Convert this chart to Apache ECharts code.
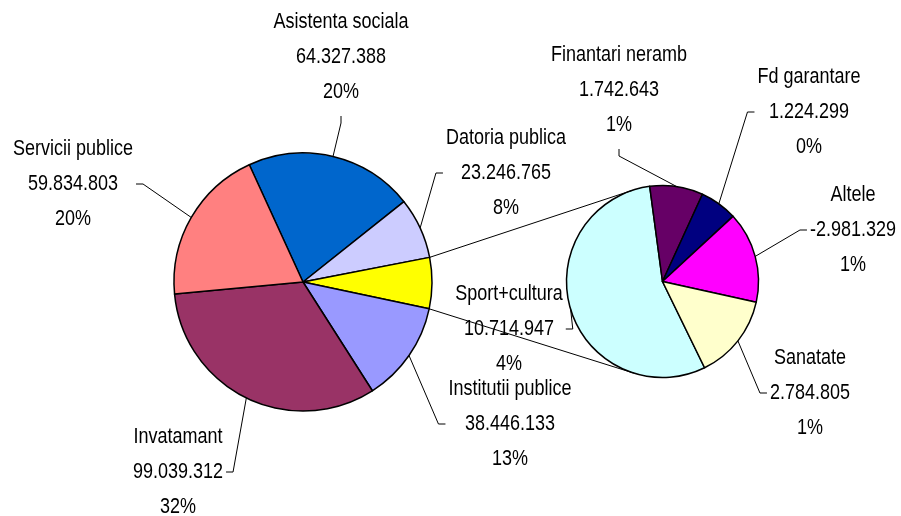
<!DOCTYPE html>
<html><head><meta charset="utf-8">
<script src="https://cdn.jsdelivr.net/npm/echarts@6/dist/echarts.min.js"></script>
<style>html,body{margin:0;padding:0;background:#fff}#c{width:901px;height:516px}</style>
</head><body><div id="c"></div>
<script>
// ---- data ----
const mainCategories = ['Asistenta sociala', 'Datoria publica', 'Institutii publice', 'Invatamant', 'Servicii publice'];
const mainValues = [64327388, 23246765, 38446133, 99039312, 59834803];
const mainPercents = ['20%', '8%', '13%', '32%', '20%'];
const subCategories = ['Sport+cultura', 'Finantari neramb', 'Fd garantare', 'Altele', 'Sanatate'];
const subValues = [10714947, 1742643, 1224299, -2981329, 2784805];
const subPercents = ['4%', '1%', '0%', '1%', '1%'];

// ---- styling / layout ----
const mainColors = ['#0066CC', '#CCCCFF', '#9999FF', '#993366', '#FF8080'];
const otherColor = '#FFFF00';
const subColors = ['#CCFFFF', '#660066', '#000080', '#FF00FF', '#FFFFCC'];
const MAIN = {cx: 303, cy: 282, r: 129, start: 114.6};
const SUB = {cx: 662.5, cy: 281.5, r: 96, start: -64};
const FONT = '18px "Liberation Sans", Arial, sans-serif';
const SY = 1.22, LH = 35;
const labelPos = {
  'Asistenta sociala': {x: 341, y: 57, attach: 'B'},
  'Datoria publica': {x: 506, y: 173, attach: 'L'},
  'Institutii publice': {x: 510, y: 424, attach: 'L'},
  'Invatamant': {x: 178, y: 472, attach: 'R'},
  'Servicii publice': {x: 73, y: 184, attach: 'R'},
  'Sport+cultura': {x: 509, y: 329, attach: 'R'},
  'Finantari neramb': {x: 619, y: 90, attach: 'B'},
  'Fd garantare': {x: 809, y: 112, attach: 'L'},
  'Altele': {x: 853, y: 230, attach: 'L'},
  'Sanatate': {x: 810, y: 393, attach: 'L'}
};

const fmt = v => (v < 0 ? '-' : '') + String(Math.abs(v)).replace(/\B(?=(\d{3})+(?!\d))/g, '.');
const ctx = document.createElement('canvas').getContext('2d');
ctx.font = FONT;
const measure = s => ctx.measureText(s).width;

// main pie: "other" slice (sum of secondary pie) inserted after Datoria publica
const otherTotal = subValues.reduce((a, b) => a + Math.abs(b), 0);
const mainData = [];
mainCategories.forEach((n, i) => {
  mainData.push({name: n, value: mainValues[i], itemStyle: {color: mainColors[i]}});
  if (i === 1) mainData.push({name: 'Alte', value: otherTotal, itemStyle: {color: otherColor}});
});
const subData = subCategories.map((n, i) => ({name: n, value: Math.abs(subValues[i]), itemStyle: {color: subColors[i]}}));

// angles same as ECharts pie layout (clockwise, canvas radians)
function angles(data, startDeg) {
  const tot = data.reduce((a, d) => a + d.value, 0);
  let a = -startDeg * Math.PI / 180;
  return data.map(d => {
    const s = a; a += d.value / tot * Math.PI * 2;
    return {s: s, e: a, m: (s + a) / 2};
  });
}
const mainAng = angles(mainData, MAIN.start);
const subAng = angles(subData, SUB.start);

const elements = [];
function addLabel(name, valText, pct, ang, P) {
  const pos = labelPos[name];
  const lines = [name, valText, pct];
  const ys = [pos.y - LH, pos.y, pos.y + LH];
  lines.forEach((t, i) => elements.push({
    type: 'text', x: pos.x, y: ys[i], scaleY: SY, silent: true, z: 10,
    style: {text: t, x: 0, y: 0, font: FONT, fill: '#000', align: 'center', verticalAlign: 'middle',
      textAlign: 'center', textVerticalAlign: 'middle'}
  }));
  const w = Math.max(...lines.map(measure));
  const ax = P.cx + P.r * Math.cos(ang.m), ay = P.cy + P.r * Math.sin(ang.m);
  let end, elbow;
  if (pos.attach === 'B') { end = [pos.x, pos.y + LH + 24]; elbow = [pos.x, pos.y + LH + 31]; }
  else if (pos.attach === 'L') { end = [pos.x - w / 2 - 3, pos.y]; elbow = [end[0] - 7, pos.y]; }
  else { end = [pos.x + w / 2 + 3, pos.y]; elbow = [end[0] + 7, pos.y]; }
  elements.push({type: 'polyline', silent: true, z: 10, shape: {points: [end, elbow, [ax, ay]]},
    style: {stroke: '#000', lineWidth: 1, fill: null}});
}
let mi = 0;
mainData.forEach((d, i) => {
  if (d.name === 'Alte') return;
  addLabel(d.name, fmt(mainValues[mi]), mainPercents[mi], mainAng[i], MAIN);
  mi++;
});
subData.forEach((d, i) => addLabel(d.name, fmt(subValues[i]), subPercents[i], subAng[i], SUB));

// connector lines: from edges of the "other" slice, tangent to the secondary pie
const oi = mainData.findIndex(d => d.name === 'Alte');
function tangent(px, py, top) {
  const vx = px - SUB.cx, vy = py - SUB.cy, d = Math.hypot(vx, vy);
  const th = Math.atan2(vy, vx), al = Math.acos(SUB.r / d);
  const t1 = [SUB.cx + SUB.r * Math.cos(th + al), SUB.cy + SUB.r * Math.sin(th + al)];
  const t2 = [SUB.cx + SUB.r * Math.cos(th - al), SUB.cy + SUB.r * Math.sin(th - al)];
  return top ? (t1[1] < t2[1] ? t1 : t2) : (t1[1] > t2[1] ? t1 : t2);
}
[[mainAng[oi].s, true], [mainAng[oi].e, false]].forEach(([a, top]) => {
  const p = [MAIN.cx + MAIN.r * Math.cos(a), MAIN.cy + MAIN.r * Math.sin(a)];
  elements.push({type: 'line', silent: true, z: 10, shape: {x1: p[0], y1: p[1], x2: tangent(p[0], p[1], top)[0], y2: tangent(p[0], p[1], top)[1]},
    style: {stroke: '#000', lineWidth: 1}});
});

const chart = echarts.init(document.getElementById('c'), null, {renderer: 'canvas'});
const common = {type: 'pie', clockwise: true, animation: false, label: {show: false}, labelLine: {show: false},
  emphasis: {disabled: true}, itemStyle: {borderColor: '#000', borderWidth: 1.5}};
chart.setOption({
  backgroundColor: '#fff',
  animation: false,
  series: [
    Object.assign({}, common, {center: [MAIN.cx, MAIN.cy], radius: MAIN.r, startAngle: MAIN.start, data: mainData}),
    Object.assign({}, common, {center: [SUB.cx, SUB.cy], radius: SUB.r, startAngle: SUB.start, data: subData})
  ],
  graphic: {elements: elements}
});
</script></body></html>
